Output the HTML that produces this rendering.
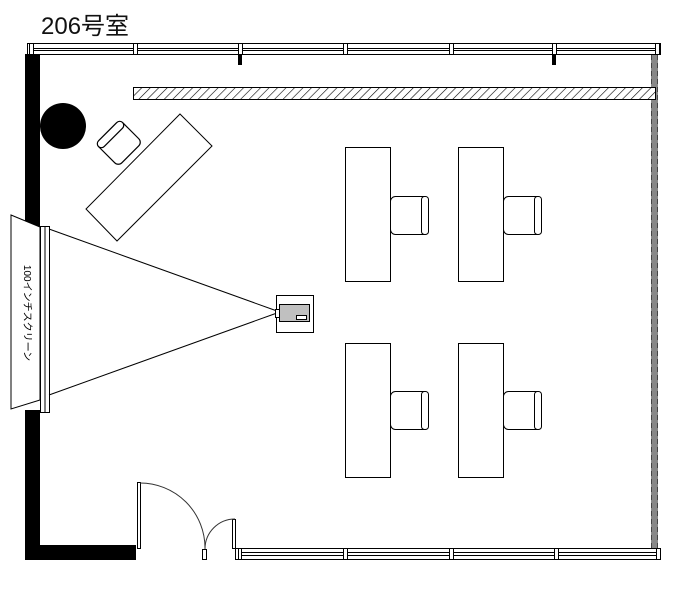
<!DOCTYPE html>
<html><head><meta charset="utf-8"><style>body{margin:0;background:#fff}</style></head><body>
<svg width="678" height="585" xmlns="http://www.w3.org/2000/svg" font-family="Liberation Sans, Noto Sans CJK JP, sans-serif">
<defs>
<pattern id="h" width="6" height="6" patternUnits="userSpaceOnUse" patternTransform="rotate(45)">
<rect width="6" height="6" fill="#fff"/><line x1="0" y1="0" x2="0" y2="6" stroke="#000" stroke-width="1.2"/></pattern>
</defs>
<text x="41" y="34" font-size="24" fill="#111">206号室</text>
<!-- top window -->
<rect x="27.5" y="43.5" width="633" height="11" fill="#fff" stroke="#000"/>
<line x1="32" y1="48.5" x2="656" y2="48.5" stroke="#000"/>
<line x1="32" y1="50.5" x2="656" y2="50.5" stroke="#000"/>
<g fill="#fff" stroke="#000">
<rect x="29.5" y="43.5" width="4" height="11"/>
<rect x="133.5" y="43.5" width="4" height="11"/>
<rect x="238.5" y="43.5" width="4" height="11"/>
<rect x="343.5" y="43.5" width="4" height="11"/>
<rect x="449.5" y="43.5" width="4" height="11"/>
<rect x="552.5" y="43.5" width="4" height="11"/>
<rect x="655.5" y="43.5" width="4" height="11"/>
</g>
<rect x="238" y="55" width="4" height="10" fill="#000"/>
<rect x="552" y="55" width="4" height="10" fill="#000"/>
<!-- left wall -->
<rect x="25" y="54" width="15" height="173" fill="#000"/>
<rect x="25" y="410" width="15" height="150" fill="#000"/>
<rect x="25" y="545" width="111" height="15" fill="#000"/>
<!-- right wall -->
<rect x="651" y="55" width="7" height="493" fill="#888"/>
<line x1="651.5" y1="55" x2="651.5" y2="548" stroke="#444" stroke-dasharray="5,3"/>
<line x1="657.5" y1="55" x2="657.5" y2="548" stroke="#444" stroke-dasharray="5,3"/>
<!-- hatch bar -->
<rect x="133.5" y="87.5" width="522" height="12" fill="url(#h)" stroke="#000"/>
<!-- circle -->
<circle cx="63" cy="126" r="23" fill="#000"/>
<!-- diagonal desk -->
<polygon points="180,114 212,146 117,241 86,209" fill="#fff" stroke="#000"/>
<g transform="translate(119,143) rotate(-45)">
<rect x="-17" y="-16" width="34" height="32" rx="5" fill="#fff" stroke="#000" stroke-width="1.2"/>
<rect x="-17" y="-16" width="34" height="8" rx="4" fill="#fff" stroke="#000" stroke-width="1.2"/>
</g>
<!-- screen -->
<polygon points="11,215 40,227 40,400 11,409" fill="#fff" stroke="#000"/>
<rect x="40.5" y="226.5" width="9" height="186" fill="#fff" stroke="#000"/>
<line x1="45" y1="227" x2="45" y2="412" stroke="#000"/>
<text transform="translate(24,313) rotate(90)" font-size="10" text-anchor="middle">100インチスクリーン</text>
<line x1="49" y1="229" x2="277" y2="311" stroke="#000"/>
<line x1="49" y1="395" x2="277" y2="313" stroke="#000"/>
<!-- projector -->
<rect x="276.5" y="295.5" width="37" height="37" fill="#fff" stroke="#000"/>
<rect x="279.5" y="304.5" width="30" height="17" fill="#c0c0c0" stroke="#000"/>
<rect x="275.5" y="309.5" width="4" height="8" fill="#fff" stroke="#000"/>
<rect x="296.5" y="315.5" width="10" height="4" fill="#fff" stroke="#000"/>
<!-- desks -->
<g fill="#fff" stroke="#000">
<rect x="345.5" y="147.5" width="45" height="134"/>
<rect x="458.5" y="147.5" width="45" height="134"/>
<rect x="345.5" y="343.5" width="45" height="134"/>
<rect x="458.5" y="343.5" width="45" height="134"/>
</g>
<g fill="#fff" stroke="#000">
<g transform="translate(390.5,196.5)"><rect x="0" y="0" width="38" height="38" rx="5"/><rect x="31" y="0" width="7" height="38" rx="3"/></g>
<g transform="translate(503.5,196.5)"><rect x="0" y="0" width="38" height="38" rx="5"/><rect x="31" y="0" width="7" height="38" rx="3"/></g>
<g transform="translate(390.5,391.5)"><rect x="0" y="0" width="38" height="38" rx="5"/><rect x="31" y="0" width="7" height="38" rx="3"/></g>
<g transform="translate(503.5,391.5)"><rect x="0" y="0" width="38" height="38" rx="5"/><rect x="31" y="0" width="7" height="38" rx="3"/></g>
</g>
<!-- doors -->
<rect x="137.5" y="482.5" width="3" height="66" fill="#fff" stroke="#000"/>
<path d="M140,483 A65,65 0 0 1 205,548" fill="none" stroke="#333"/>
<rect x="232.5" y="519.5" width="3" height="29" fill="#fff" stroke="#000"/>
<path d="M235,519 A30,30 0 0 0 205,549" fill="none" stroke="#333"/>
<rect x="202.5" y="549.5" width="4" height="10" fill="#fff" stroke="#000"/>
<!-- bottom window -->
<rect x="235.5" y="548.5" width="425" height="11" fill="#fff" stroke="#000"/>
<line x1="241" y1="552.5" x2="656" y2="552.5" stroke="#000"/>
<line x1="241" y1="555.5" x2="656" y2="555.5" stroke="#000"/>
<g fill="#fff" stroke="#000">
<rect x="238.5" y="548.5" width="3" height="11"/>
<rect x="343.5" y="548.5" width="4" height="11"/>
<rect x="449.5" y="548.5" width="4" height="11"/>
<rect x="554.5" y="548.5" width="4" height="11"/>
<rect x="656.5" y="548.5" width="4" height="11"/>
</g>
</svg>
</body></html>
